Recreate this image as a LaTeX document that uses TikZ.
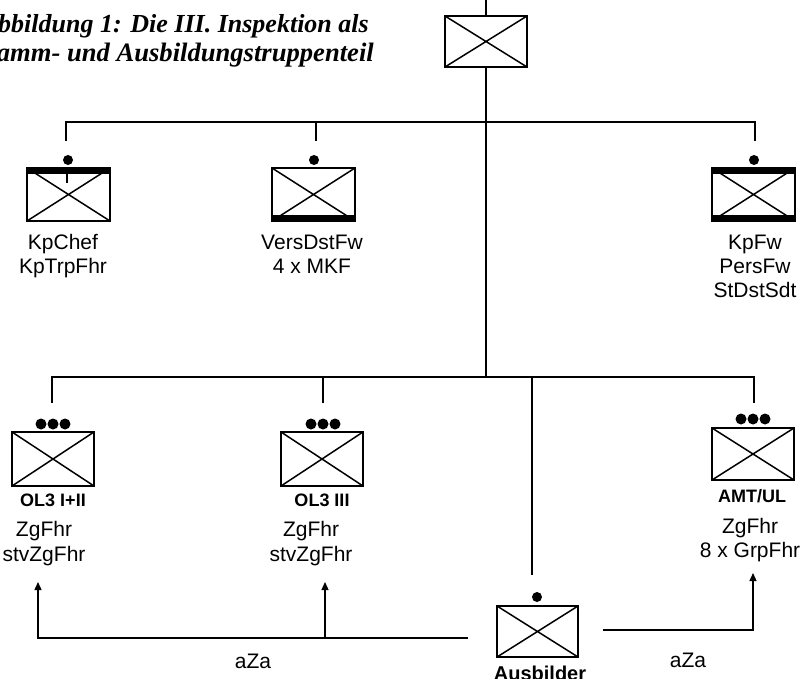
\documentclass[tikz,border=0pt]{standalone}
\usepackage{fontspec}
\setmainfont{Liberation Sans}
\newfontfamily\titlefont{Liberation Serif}
\usetikzlibrary{arrows.meta,calc}

\tikzset{
  unit/.style={draw, line width=2pt, minimum width=82pt, minimum height=52pt,
               inner sep=0pt, outer sep=0pt},
  link/.style={line width=1.3pt},
  lbl/.style={font=\fontsize{21}{24}\selectfont, inner sep=0pt, anchor=base},
  tag/.style={font=\fontsize{18}{20}\selectfont\bfseries, inner sep=0pt, anchor=base},
  ttl/.style={font=\titlefont\fontsize{26}{29}\selectfont\bfseries\itshape,
              inner sep=0pt, anchor=base east},
  tip/.style={-{Triangle[length=8pt,width=7pt]}},
}

% crossed rectangle of a unit symbol
\newcommand\unitcross[1]{%
  \draw[line width=1.5pt] (#1.north west) -- (#1.south east)
                          (#1.north east) -- (#1.south west);}
% thick bar along the top or bottom edge
\newcommand\topbar[1]{\fill (#1.north west) rectangle ($(#1.north east)+(0,6)$);}
\newcommand\botbar[1]{\fill ($(#1.south west)+(0,-6)$) rectangle (#1.south east);}
% rank dots above a symbol
\newcommand\onedot[1]{\fill (#1) circle[radius=5pt];}
\newcommand\threedots[1]{%
  \fill ($(#1)+(-12,0)$) circle[radius=5.5pt] (#1) circle[radius=5.5pt]
        ($(#1)+(12,0)$) circle[radius=5.5pt];}

\begin{document}
\begin{tikzpicture}[x=1pt,y=-1pt]
\useasboundingbox (0,0) rectangle (802,679);
\clip (0,0) rectangle (802,679);

% title
\node[ttl] (title1) at (369,33) {Abbildung 1: Die III. Inspektion als};
\node[ttl, font=\titlefont\fontsize{26.6}{29}\selectfont\bfseries\itshape]
  (title2) at (374,62) {Stamm- und Ausbildungstruppenteil};

% head of the organisation
\node[unit, minimum height=51pt] (top) at (486,41.5) {};
\unitcross{top}
\coordinate (stem) at (486,0);
\draw[line width=2pt] (top.north) -- (stem);

% junctions
\coordinate (j1) at (486,122);
\coordinate (j2) at (486,377);
\draw[link] (top.south) -- (j2);

% staff row
\node[unit, minimum width=83pt, minimum height=53pt] (kpchef) at (68.5,194.5) {};
\node[unit, minimum width=83pt, minimum height=53pt] (vers) at (313.5,194.5) {};
\node[unit, minimum width=83pt, minimum height=53pt] (kpfw) at (753.5,194.5) {};
\topbar{kpchef}
\draw[line width=1.5pt] ($(kpchef.north)+(-1.5,6)$) -- ($(kpchef.north)+(-1.5,15)$);
\botbar{vers}
\topbar{kpfw}\botbar{kpfw}
\unitcross{kpchef}\unitcross{vers}\unitcross{kpfw}
\coordinate (d1) at (68,160);
\coordinate (d2) at (314,160);
\coordinate (d3) at (754,160);
\onedot{d1}\onedot{d2}\onedot{d3}

\coordinate (a1) at (66,122);  \coordinate (a1e) at (66,141);
\coordinate (a2) at (316,122); \coordinate (a2e) at (316,141);
\coordinate (a3) at (755,122); \coordinate (a3e) at (755,141);
\draw[link] (a1e) -- (a1) -- (a3) -- (a3e);
\draw[link] (a2) -- (a2e);

\node[lbl] (kpchef1) at (63,249) {KpChef};
\node[lbl] (kpchef2) at (63,273) {KpTrpFhr};
\node[lbl] (vers1) at (312,249) {VersDstFw};
\node[lbl] (vers2) at (312,273) {4 x MKF};
\node[lbl] (kpfw1) at (755,249) {KpFw};
\node[lbl] (kpfw2) at (755,273) {PersFw};
\node[lbl] (kpfw3) at (755,297) {StDstSdt};

% training row
\node[unit, minimum height=54pt] (ol1) at (53,459) {};
\node[unit, minimum height=54pt] (ol3) at (322,459) {};
\node[unit, minimum height=52pt] (amt) at (753,454) {};
\node[unit, minimum width=81pt, minimum height=51pt] (ausb) at (537.5,631.5) {};
\unitcross{ol1}\unitcross{ol3}\unitcross{amt}\unitcross{ausb}
\coordinate (t1) at (53,424);
\coordinate (t2) at (323,424);
\coordinate (t3) at (753,419);
\threedots{t1}\threedots{t2}\threedots{t3}
\coordinate (d4) at (537,597);
\onedot{d4}

\coordinate (b1) at (52,377);  \coordinate (b1e) at (52,403);
\coordinate (b2) at (323,377); \coordinate (b2e) at (323,403);
\coordinate (b3) at (532,377); \coordinate (b3e) at (532,575);
\coordinate (b4) at (754,377); \coordinate (b4e) at (754,403);
\draw[link] (b1e) -- (b1) -- (b4) -- (b4e);
\draw[link] (b2) -- (b2e);
\draw[link] (b3) -- (b3e);

\node[tag] (ol1t) at (53,506) {OL3 I+II};
\node[tag] (ol3t) at (322,506) {OL3 III};
\node[tag] (amtt) at (752,502) {AMT/UL};
\node[tag, font=\fontsize{20}{22}\selectfont\bfseries] (ausbt) at (540,680) {Ausbilder};

\node[lbl] (ol1a) at (44,536) {ZgFhr};
\node[lbl] (ol1b) at (44,561) {stvZgFhr};
\node[lbl] (ol3a) at (311,536) {ZgFhr};
\node[lbl] (ol3b) at (311,561) {stvZgFhr};
\node[lbl] (amta) at (750,533) {ZgFhr};
\node[lbl] (amtb) at (750,557) {8 x GrpFhr};

% secondment arrows from the instructors
\coordinate (l0) at ($(ausb.west)+(-29,6.5)$);
\coordinate (l1) at (38,638);
\coordinate (l1e) at (38,582);
\coordinate (l2) at (325,638);
\coordinate (l2e) at (325,582);
\draw[link, tip] (l0) -- (l1) -- (l1e);
\draw[link, tip] (l2) -- (l2e);
\coordinate (r0) at ($(ausb.east)+(25,-1.5)$);
\coordinate (r1) at (753,630);
\coordinate (r1e) at (753,573);
\draw[link, tip] (r0) -- (r1) -- (r1e);

\node[lbl] (aza1) at (253,668) {aZa};
\node[lbl] (aza2) at (688,667) {aZa};
\end{tikzpicture}
\end{document}
